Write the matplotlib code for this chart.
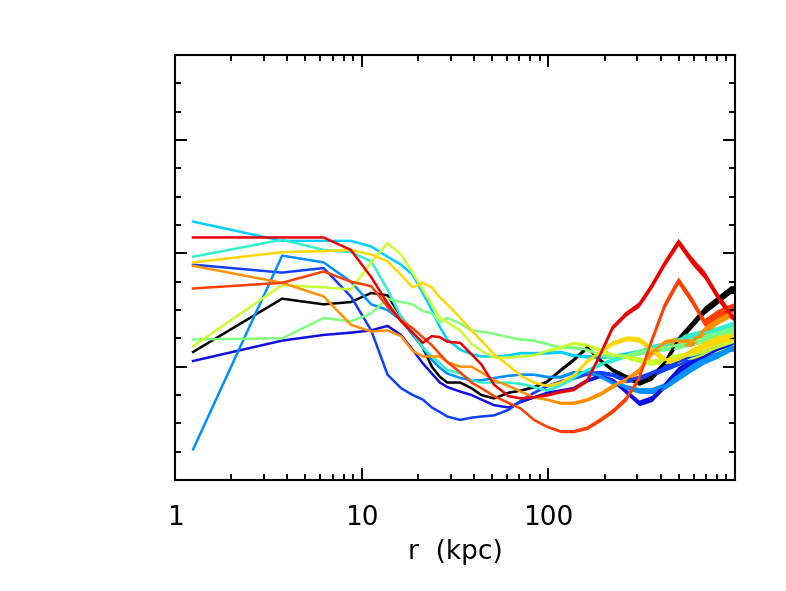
import numpy as np
import matplotlib.pyplot as plt
from matplotlib.ticker import FixedLocator, LogLocator, MultipleLocator, NullFormatter

# radial bins (kpc)
r_kpc = [1.25, 3.75, 6.25, 8.75, 11.25, 13.75, 16.25, 18.75, 21.25, 23.75, 26.25, 28.75,
         33.75, 38.75, 43.75, 51.25, 61.25, 71.25, 83.75, 98.75, 116.25, 136.25, 161.25,
         188.75, 221.25, 261.25, 306.25, 358.75, 421.25, 496.25, 583.75, 686.25, 806.25,
         946.25, 998.75]

black = [1.13, 1.60, 1.55, 1.57, 1.65, 1.63, 1.44, 1.30, 1.17, 1.00, 0.91, 0.86, 0.86, 0.81, 0.75,
         0.72, 0.77, 0.79, 0.82, 0.87, 0.97, 1.06, 1.17, 1.06, 0.97, 0.91, 0.86, 0.91, 1.04, 1.24,
         1.37, 1.50, 1.59, 1.68, 1.68]
dblue = [1.05, 1.23, 1.28, 1.30, 1.32, 1.36, 1.28, 1.15, 1.03, 0.94, 0.86, 0.82, 0.78, 0.75, 0.71,
         0.66, 0.64, 0.69, 0.73, 0.77, 0.79, 0.81, 0.88, 0.92, 0.88, 0.78, 0.68, 0.72, 0.84, 0.97,
         1.04, 1.09, 1.15, 1.19, 1.21]
mblue = [1.90, 1.83, 1.87, 1.62, 1.32, 0.93, 0.81, 0.75, 0.71, 0.64, 0.60, 0.56, 0.53, 0.55, 0.56,
         0.57, 0.62, 0.70, 0.77, 0.83, 0.87, 0.90, 0.94, 0.95, 0.93, 0.88, 0.90, 0.94, 0.99, 1.04,
         1.09, 1.13, 1.17, 1.20, 1.21]
lblue = [0.27, 1.98, 1.92, 1.75, 1.55, 1.50, 1.41, 1.28, 1.17, 1.06, 0.99, 0.94, 0.90, 0.88, 0.88,
         0.90, 0.92, 0.93, 0.93, 0.91, 0.91, 0.95, 0.95, 0.92, 0.86, 0.82, 0.79, 0.79, 0.83, 0.91,
         0.99, 1.06, 1.11, 1.17, 1.17]
cyan = [2.28, 2.11, 2.11, 2.11, 2.06, 1.97, 1.90, 1.81, 1.65, 1.50, 1.35, 1.24, 1.15, 1.11, 1.09,
        1.09, 1.10, 1.12, 1.12, 1.12, 1.13, 1.10, 1.09, 1.09, 1.09, 1.11, 1.13, 1.15, 1.17, 1.19,
        1.22, 1.25, 1.29, 1.32, 1.32]
turq = [1.97, 2.12, 2.03, 2.01, 1.93, 1.68, 1.44, 1.30, 1.17, 1.09, 1.03, 0.97, 0.94, 0.88, 0.86,
        0.86, 0.86, 0.85, 0.82, 0.79, 0.84, 0.90, 0.97, 1.02, 1.06, 1.10, 1.13, 1.17, 1.19, 1.24,
        1.27, 1.30, 1.32, 1.36, 1.37]
lgreen = [1.24, 1.25, 1.43, 1.40, 1.47, 1.60, 1.57, 1.55, 1.49, 1.47, 1.39, 1.43, 1.38, 1.32, 1.31,
          1.29, 1.26, 1.24, 1.23, 1.20, 1.17, 1.17, 1.15, 1.10, 1.09, 1.10, 1.13, 1.15, 1.17, 1.19,
          1.22, 1.25, 1.29, 1.32, 1.32]
ygreen = [1.18, 1.72, 1.70, 1.68, 1.92, 2.09, 1.99, 1.83, 1.68, 1.55, 1.43, 1.39, 1.32, 1.20, 1.14,
          1.08, 1.08, 1.09, 1.10, 1.14, 1.17, 1.21, 1.19, 1.15, 1.10, 1.09, 1.06, 1.04, 1.06, 1.09,
          1.10, 1.13, 1.17, 1.21, 1.22]
yellow = [1.92, 2.01, 2.02, 2.03, 1.99, 1.93, 1.81, 1.70, 1.74, 1.70, 1.61, 1.55, 1.43, 1.32, 1.23,
          1.11, 1.01, 0.92, 0.86, 0.83, 0.86, 0.92, 1.05, 1.13, 1.21, 1.25, 1.24, 1.15, 1.06, 1.06,
          1.13, 1.19, 1.24, 1.26, 1.27]
orange = [1.89, 1.74, 1.62, 1.37, 1.31, 1.32, 1.27, 1.14, 1.09, 1.09, 1.09, 1.04, 1.00, 1.00, 0.95,
          0.88, 0.83, 0.78, 0.73, 0.71, 0.68, 0.68, 0.71, 0.76, 0.83, 0.89, 0.97, 1.13, 1.21, 1.23,
          1.21, 1.32, 1.41, 1.47, 1.47]
redorange = [1.69, 1.74, 1.84, 1.75, 1.71, 1.53, 1.41, 1.34, 1.26, 1.19, 1.11, 1.04, 0.95, 0.86, 0.81,
             0.74, 0.68, 0.63, 0.53, 0.47, 0.43, 0.43, 0.46, 0.53, 0.61, 0.72, 0.90, 1.24, 1.55, 1.76,
             1.59, 1.39, 1.47, 1.52, 1.53]
red = [2.14, 2.14, 2.14, 2.03, 1.79, 1.56, 1.40, 1.30, 1.21, 1.27, 1.26, 1.22, 1.21, 1.11, 1.02,
       0.84, 0.74, 0.72, 0.73, 0.75, 0.78, 0.80, 0.88, 1.10, 1.35, 1.47, 1.55, 1.72, 1.92, 2.10,
       1.94, 1.81, 1.62, 1.46, 1.43]

scatter = [0, 0, 0, 0, 0, 0, 0, 0, 0, 0, 0, 0, 0, 0, 0,
           0, 0.004, 0.006, 0.008, 0.01, 0.012, 0.014, 0.016, 0.018, 0.02, 0.022, 0.025,
           0.028, 0.03, 0.032, 0.034, 0.035, 0.035, 0.035, 0.035]

profiles = [black, dblue, mblue, lblue, cyan, turq, lgreen, ygreen, yellow, orange, redorange, red]
colors = ['#000000', '#1010e0', '#1040ff', '#0090ff', '#00d0ff', '#30f0d0',
          '#80ff80', '#c8ff30', '#ffd800', '#ff9000', '#ff4000', '#ee0000']

fig = plt.figure(figsize=(7.86, 5.91), dpi=100)
ax = fig.add_axes([175 / 786, 111 / 591, 560 / 786, 425 / 591])

sc = np.array(scatter)
for prof, c in zip(profiles, colors):
    p = np.array(prof)
    ax.fill_between(r_kpc, p - sc, p + sc, color=c, lw=0)
    ax.plot(r_kpc, prof, color=c, lw=1.8)

ax.set_xscale('log')
ax.set_xlim(1, 1000)
ax.set_ylim(0, 3.75)

ax.xaxis.set_major_locator(FixedLocator([1, 10, 100, 1000]))
ax.set_xticklabels(['1', '10', '100', ''])
ax.xaxis.set_minor_locator(LogLocator(base=10, subs=np.arange(2, 10)))
ax.xaxis.set_minor_formatter(NullFormatter())
ax.yaxis.set_major_locator(MultipleLocator(1))
ax.yaxis.set_minor_locator(MultipleLocator(0.25))
ax.set_yticklabels([])

ax.tick_params(which='both', direction='in', top=True, right=True, width=1.4)
ax.tick_params(which='major', length=8.5)
ax.tick_params(which='minor', length=4.5)
ax.tick_params(axis='x', which='major', labelsize=19, pad=18)
for s in ax.spines.values():
    s.set_linewidth(1.5)

ax.set_xlabel('r  (kpc)', fontsize=19, labelpad=6)

fig.savefig('out.png', dpi=100)
